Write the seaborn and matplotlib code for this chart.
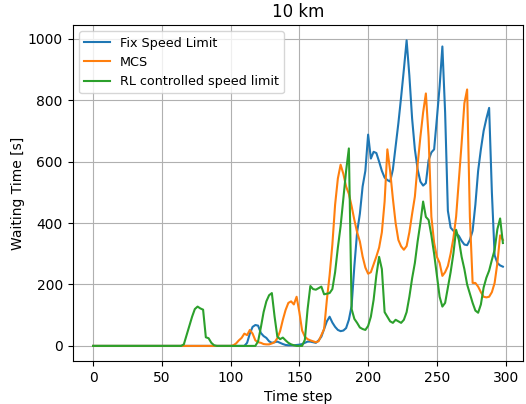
import matplotlib
matplotlib.use('Agg')
import matplotlib.pyplot as plt
import seaborn as sns
import numpy as np
import pandas as pd

# time steps sampled every 2 steps
time_step = np.arange(0, 300, 2)

fix_speed = [0] * 56 + [
    10, 40, 62, 68, 66, 42, 32, 26, 15, 10,
    12, 14, 10, 6, 3, 2, 2, 2, 3, 4,
    6, 10, 14, 14, 12, 10, 18, 30, 55, 80,
    95, 76, 62, 52, 48, 50, 58, 85, 130, 260,
    370, 430, 519, 570, 688, 610, 632, 628, 600, 570,
    548, 540, 535, 574, 650, 725, 810, 900, 995, 880,
    740, 640, 575, 535, 522, 530, 605, 630, 640, 740,
    845, 975, 760, 440, 385, 375, 366, 358, 342, 330,
    328, 345, 375, 460, 570, 640, 700, 740, 775, 500,
    295, 270, 262, 258]

mcs = [0] * 51 + [
    2, 8, 18, 26, 40, 35, 52, 40, 18, 12,
    10, 6, 5, 5, 8, 12, 25, 48, 85, 117,
    140, 145, 135, 160, 110, 50, 30, 22, 18, 15,
    12, 15, 35, 55, 150, 230, 330, 460, 545, 590,
    560, 519, 495, 455, 410, 370, 340, 291, 255, 235,
    240, 265, 291, 320, 370, 470, 640, 570, 480, 400,
    345, 324, 313, 325, 370, 430, 486, 590, 680, 760,
    822, 680, 421, 336, 290, 270, 228, 240, 260, 300,
    350, 421, 540, 660, 790, 835, 420, 205, 205, 193,
    175, 160, 158, 160, 175, 205, 270, 360, 345]

rl_speed = [0] * 33 + [
    5, 35, 65, 95, 120, 128, 122, 118, 28, 25, 10, 2] + [0] * 15 + [
    15, 60, 110, 145, 165, 172, 95, 30, 22, 27,
    18, 10, 5, 2, 0, 0, 0, 20, 120, 195,
    185, 183, 188, 193, 168, 170, 172, 185, 240, 320,
    390, 480, 570, 643, 120, 88, 75, 60, 55, 52,
    65, 95, 150, 230, 290, 250, 110, 95, 80, 75,
    85, 80, 75, 85, 110, 160, 220, 270, 340, 400,
    470, 420, 410, 360, 300, 230, 160, 128, 140, 190,
    240, 300, 378, 345, 290, 250, 200, 170, 140, 115,
    108, 135, 190, 222, 245, 280, 313, 380, 415, 335]

labels = ["Fix Speed Limit", "MCS", "RL controlled speed limit"]
colors = ["#1f77b4", "#ff7f0e", "#2ca02c"]

df = pd.DataFrame({"Time step": time_step,
                   labels[0]: fix_speed,
                   labels[1]: mcs,
                   labels[2]: rl_speed})

fig = plt.figure(figsize=(5.26, 4.04), dpi=100)
ax = fig.add_axes([0.138, 0.106, 0.857, 0.832])

for name, c in zip(labels, colors):
    sns.lineplot(data=df, x="Time step", y=name, color=c, label=name, linewidth=1.5, ax=ax)

ax.grid(True, color="#b0b0b0", linewidth=0.8)
ax.set_title("10 km")
ax.set_xlabel("Time step")
ax.set_ylabel("Waiting Time [s]", labelpad=2)
ax.set_xticks([0, 50, 100, 150, 200, 250, 300])
ax.set_yticks([0, 200, 400, 600, 800, 1000])
ax.legend(loc="upper left", fontsize=9.2)

fig.savefig("out.png", dpi=100)
plt.close(fig)
